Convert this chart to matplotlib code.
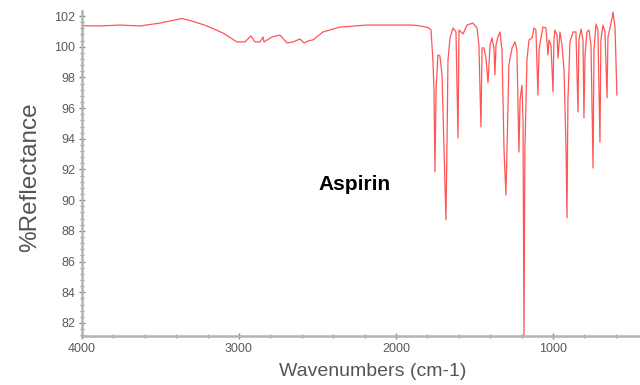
import matplotlib
matplotlib.use("Agg")
import matplotlib.pyplot as plt
from matplotlib.ticker import MultipleLocator

plt.rcParams['font.family'] = ['Liberation Sans', 'DejaVu Sans']

# spectrum (wavenumber, %reflectance)
wavenumber = [4000, 3885, 3758, 3631, 3503, 3408, 3363, 3280, 3204, 3102,
              3013, 2962, 2924, 2898, 2866, 2847, 2841, 2790, 2739, 2694,
              2656, 2612, 2586, 2561, 2529, 2465, 2357, 2185, 2102, 1892,
              1847, 1796, 1777, 1765, 1758, 1752, 1745, 1733, 1720, 1707,
              1694, 1682, 1675, 1669, 1656, 1637, 1618, 1605, 1599, 1586,
              1573, 1548, 1510, 1484, 1472, 1459, 1452, 1440, 1427, 1414,
              1401, 1389, 1376, 1370, 1363, 1351, 1338, 1325, 1312, 1300,
              1293, 1281, 1261, 1242, 1230, 1217, 1210, 1198, 1191, 1185,
              1179, 1166, 1153, 1134, 1121, 1109, 1096, 1089, 1077, 1064,
              1045, 1032, 1026, 1013, 1000, 994, 988, 975, 968, 956,
              943, 930, 917, 911, 905, 892, 873, 854, 841, 835,
              822, 809, 803, 796, 784, 771, 758, 745, 739, 726,
              714, 701, 695, 682, 669, 656, 650, 637, 624, 618,
              605, 593]
reflectance = [101.37, 101.35, 101.41, 101.35, 101.54, 101.74, 101.84, 101.61, 101.35, 100.89,
               100.31, 100.31, 100.70, 100.31, 100.31, 100.63, 100.31, 100.63, 100.76, 100.24,
               100.31, 100.50, 100.24, 100.37, 100.44, 100.96, 101.28, 101.41, 101.41, 101.41,
               101.35, 101.25, 101.09, 99.13, 97.18, 91.84, 97.18, 99.46, 99.39, 98.16,
               93.27, 88.71, 93.92, 99.13, 100.57, 101.22, 100.96, 94.05, 101.09, 100.96,
               100.83, 101.41, 101.54, 101.22, 100.11, 94.77, 99.92, 99.92, 99.26, 97.64,
               100.11, 100.57, 99.92, 98.16, 100.11, 100.63, 100.96, 99.79, 93.27, 90.34,
               93.27, 98.81, 99.92, 100.31, 99.79, 93.14, 96.53, 97.50, 95.22, 81.00,
               93.27, 99.13, 100.44, 100.57, 101.22, 101.09, 96.85, 99.79, 100.57, 101.28,
               101.22, 99.46, 100.44, 100.11, 97.05, 100.44, 101.09, 100.76, 99.26, 100.96,
               100.11, 98.48, 93.27, 88.84, 96.53, 100.31, 100.96, 100.96, 95.75, 100.44,
               101.15, 100.44, 95.36, 99.46, 100.96, 101.09, 100.11, 92.10, 99.79, 101.48,
               101.09, 93.79, 100.44, 101.41, 100.96, 96.66, 100.63, 101.22, 101.87, 102.26,
               101.22, 96.85]

fig = plt.figure(figsize=(6.4, 3.85), dpi=100)
ax = fig.add_axes([0.1281, 0.1273, 0.8719, 0.8431])

ax.plot(wavenumber, reflectance, color='#ff2a2a', linewidth=0.9, alpha=0.8)

ax.set_xlim(4000, 446)
ax.set_ylim(81.15, 102.3)

ax.xaxis.set_major_locator(MultipleLocator(1000))
ax.xaxis.set_minor_locator(MultipleLocator(200))
ax.yaxis.set_major_locator(MultipleLocator(2))
ax.yaxis.set_minor_locator(MultipleLocator(0.4))

for side in ['top', 'right']:
    ax.spines[side].set_visible(False)
for side in ['left', 'bottom']:
    ax.spines[side].set_color('#b4b4b4')
    ax.spines[side].set_linewidth(1.8)

ax.tick_params(which='major', direction='inout', length=4, width=1, color='#888888',
               labelsize=9, labelcolor='#5a5a5a', pad=3)
ax.tick_params(which='minor', direction='inout', length=2.5, width=1, color='#999999')

fig.text(30 / 640, 1 - 177 / 385, '%Reflectance', rotation=90, ha='center', va='center',
         fontsize=17.5, color='#555555')
fig.text(373 / 640, 1 - 372 / 385, 'Wavenumbers (cm-1)', ha='center', va='center',
         fontsize=14, color='#555555')
ax.text(2261, 91.0, 'Aspirin', ha='center', va='center', fontsize=15,
        fontweight='bold', color='black')

fig.savefig('out.png', dpi=100)
